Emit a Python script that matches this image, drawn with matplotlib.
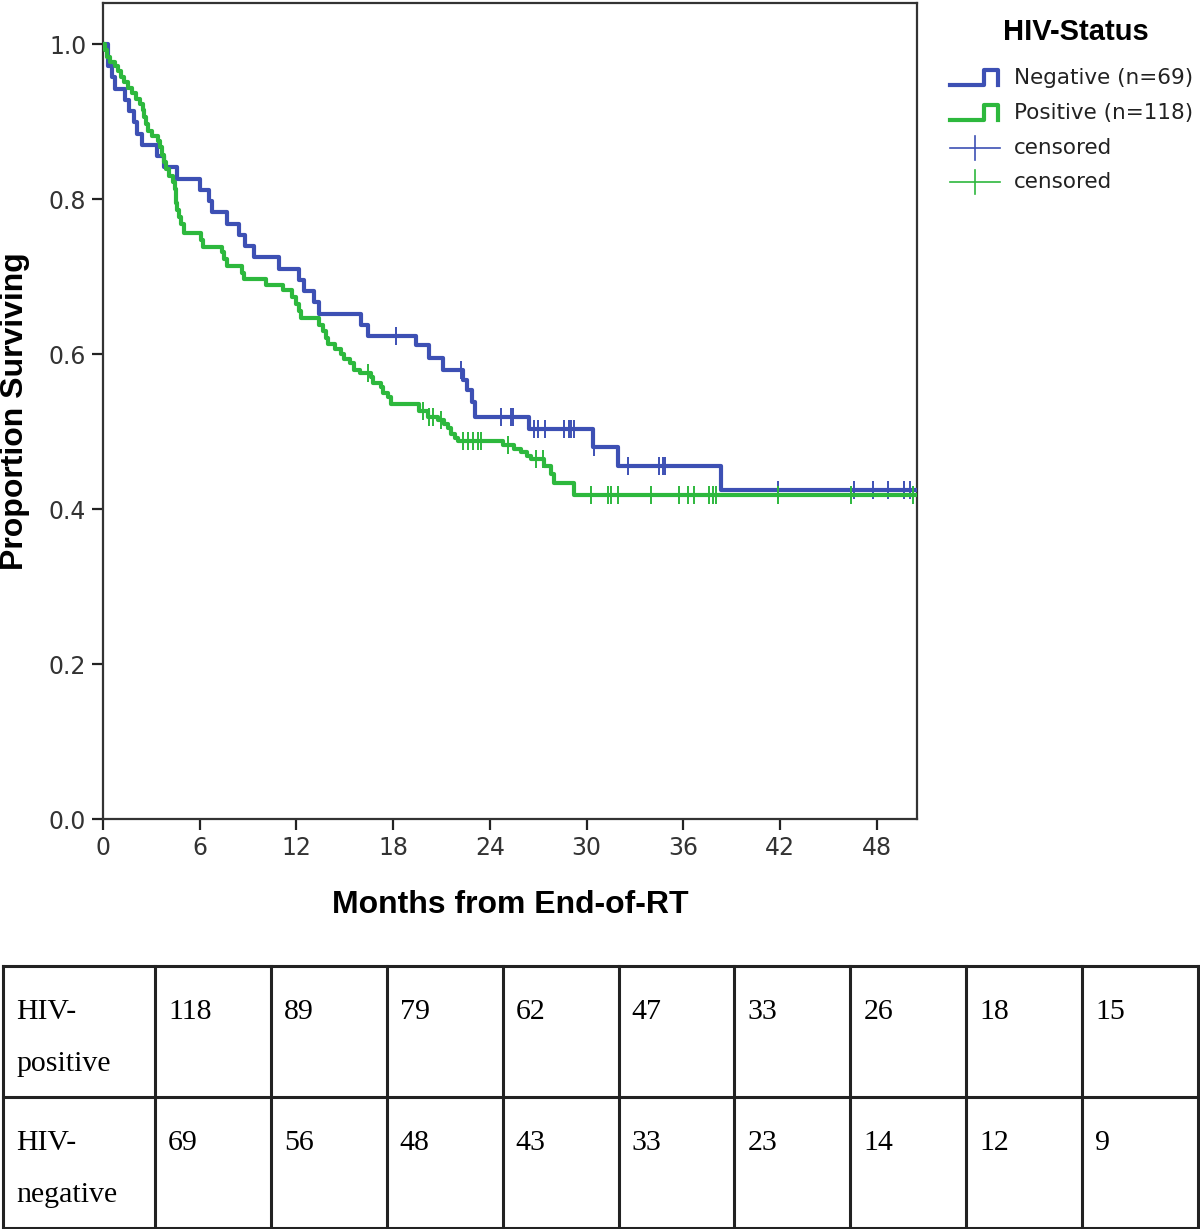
import numpy as np
import matplotlib
matplotlib.use("Agg")
import matplotlib.pyplot as plt
from matplotlib.lines import Line2D

# Kaplan-Meier steps (months, proportion surviving after the drop)
neg_times = [0.31, 0.56, 0.74, 1.36, 1.61, 1.92, 2.11, 2.42, 3.34, 3.78, 4.58, 6.0,
             6.56, 6.75, 7.68, 8.42, 8.8, 9.35, 10.9, 12.14, 12.5, 13.07, 13.38,
             16.04, 16.47, 19.45, 20.2, 21.1, 22.36, 22.6, 22.9, 23.1, 26.45, 30.4,
             31.96, 38.34]
neg_surv = [0.971, 0.957, 0.942, 0.928, 0.913, 0.899, 0.884, 0.870, 0.855, 0.841,
            0.826, 0.812, 0.797, 0.783, 0.768, 0.754, 0.739, 0.725, 0.710, 0.696,
            0.681, 0.667, 0.652, 0.638, 0.623, 0.611, 0.595, 0.580, 0.567, 0.553,
            0.538, 0.519, 0.503, 0.480, 0.455, 0.425]
neg_censor = [18.2, 22.2, 24.7, 25.3, 25.45, 26.75, 27.0, 27.4, 28.6, 28.9, 29.05,
              29.2, 30.47, 32.6, 34.5, 34.75, 34.9, 41.9, 46.6, 47.75, 48.7, 49.7, 50.1]

pos_times = [0.12, 0.25, 0.43, 0.74, 0.93, 1.11, 1.30, 1.55, 1.80, 2.04, 2.29, 2.48,
             2.54, 2.66, 2.79, 3.03, 3.41, 3.53, 3.65, 3.78, 3.90, 4.09, 4.34, 4.46,
             4.52, 4.55, 4.58, 4.71, 4.83, 5.02, 6.07, 6.19, 7.37, 7.49, 7.68, 8.61,
             8.73, 10.10, 11.15, 11.7, 12.0, 12.14, 12.26, 13.38, 13.63, 13.81, 13.94,
             14.37, 14.74, 14.93, 15.30, 15.55, 15.92, 16.66, 16.78, 17.28, 17.40,
             17.71, 17.90, 19.63, 20.19, 20.81, 21.18, 21.43, 21.6, 21.86, 22.05,
             24.84, 25.52, 25.95, 26.32, 26.57, 27.38, 27.81, 28.0, 29.23]
pos_surv = [0.992, 0.983, 0.977, 0.972, 0.965, 0.957, 0.951, 0.943, 0.937, 0.929,
            0.923, 0.915, 0.906, 0.897, 0.888, 0.881, 0.875, 0.867, 0.857, 0.848,
            0.839, 0.830, 0.822, 0.813, 0.804, 0.795, 0.786, 0.777, 0.768, 0.756,
            0.747, 0.738, 0.732, 0.723, 0.714, 0.705, 0.697, 0.689, 0.682, 0.674,
            0.665, 0.656, 0.647, 0.638, 0.630, 0.621, 0.613, 0.606, 0.600, 0.593,
            0.588, 0.580, 0.575, 0.570, 0.562, 0.558, 0.550, 0.545, 0.535, 0.527,
            0.519, 0.515, 0.510, 0.504, 0.497, 0.492, 0.488, 0.482, 0.478, 0.474,
            0.469, 0.464, 0.455, 0.445, 0.434, 0.418]
pos_censor = [16.47, 19.88, 20.25, 20.50, 21.0, 22.36, 22.67, 22.98, 23.29, 23.47,
              25.15, 26.88, 27.31, 30.29, 31.34, 31.53, 31.96, 34.0, 35.74, 36.3,
              36.67, 37.6, 37.84, 38.03, 41.87, 46.39, 50.23]

x_end = 50.5
x_ticks = [0, 6, 12, 18, 24, 30, 36, 42, 48]
y_ticks = [0.0, 0.2, 0.4, 0.6, 0.8, 1.0]

# number at risk table
row_labels = [["HIV-", "positive"], ["HIV-", "negative"]]
at_risk_pos = [118, 89, 79, 62, 47, 33, 26, 18, 15]
at_risk_neg = [69, 56, 48, 43, 33, 23, 14, 12, 9]

blue = "#3d50b4"
green = "#2db83d"

fig = plt.figure(figsize=(12, 12.29), dpi=100)
ax = fig.add_axes([0.0858, 0.3336, 0.6783, 0.664])


def km_plot(times, surv, censor, color, z):
    t = np.r_[0, times, x_end]
    s = np.r_[1.0, surv, surv[-1]]
    ax.step(t, s, where="post", color=color, lw=3.0, zorder=z)
    # censor ticks sit on the curve at their time
    idx = np.searchsorted(t, censor, side="right") - 1
    ax.plot(censor, s[idx], ls="none", marker="|", ms=13, mew=1.4, color=color, zorder=z)


km_plot(neg_times, neg_surv, neg_censor, blue, 3)
km_plot(pos_times, pos_surv, pos_censor, green, 4)

ax.set_xlim(0, x_end)
ax.set_ylim(0, 1.053)
ax.set_xticks(x_ticks)
ax.set_yticks(y_ticks)
ax.set_yticklabels([f"{v:.1f}" for v in y_ticks])
ax.tick_params(direction="out", length=8, width=1.6, labelsize=17, labelcolor="#333333",
               color="#222222", pad=4)
for sp in ax.spines.values():
    sp.set_linewidth(1.6)
    sp.set_color("#333333")

ax.set_xlabel("Months from End-of-RT", family="Liberation Sans", weight="bold", fontsize=23)
ax.xaxis.set_label_coords(0.5, -0.105)
ax.xaxis.label.set_va("center")
ax.set_ylabel("Proportion Surviving", family="Liberation Sans", weight="bold", fontsize=23)
ax.yaxis.set_label_coords(-0.108, 0.5)
ax.yaxis.label.set_va("center")

# legend drawn by hand (step shaped handles as in SPSS)
W, H = 1200.0, 1229.0


def fx(px):
    return px / W


def fy(py):
    return 1 - py / H


fig.text(fx(1076), fy(32), "HIV-Status", family="Liberation Sans", weight="bold",
         fontsize=21, ha="center", va="center")
leg_items = [("Negative (n=69)", blue, "step", 78),
             ("Positive (n=118)", green, "step", 113),
             ("censored", blue, "cens", 148),
             ("censored", green, "cens", 182)]
for label, col, kind, py in leg_items:
    if kind == "step":
        xs = [fx(950), fx(984), fx(984), fx(998), fx(998)]
        ys = [fy(py + 7), fy(py + 7), fy(py - 8), fy(py - 8), fy(py + 7)]
        fig.add_artist(Line2D(xs, ys, color=col, lw=3.0))
    else:
        fig.add_artist(Line2D([fx(950), fx(1000)], [fy(py), fy(py)], color=col, lw=1.2))
        fig.add_artist(Line2D([fx(975), fx(975)], [fy(py - 12), fy(py + 12)], color=col, lw=1.2))
    fig.text(fx(1014), fy(py), label, fontsize=15.5, color="#222222", ha="left", va="center")

# at risk table
tab = fig.add_axes([3 / W, 1 - 1228 / H, 1195 / W, 262 / H])
tab.set_xlim(0, 1)
tab.set_ylim(0, 1)
tab.axis("off")
first_w = 152 / 1195.0
col_w = (1 - first_w) / len(at_risk_pos)
edges = [0] + [first_w + i * col_w for i in range(len(at_risk_pos) + 1)]
for e in edges:
    tab.plot([e, e], [0, 1], color="#222222", lw=2.2, clip_on=False)
for yv in [0, 0.5, 1]:
    tab.plot([0, 1], [yv, yv], color="#222222", lw=2.2, clip_on=False)

serif = "Liberation Serif"
for r, (lab, vals) in enumerate(zip(row_labels, [at_risk_pos, at_risk_neg])):
    top = 1 - 0.5 * r
    tab.text(13 / 1195, top - 46 / 262, lab[0], family=serif, fontsize=21.5, va="center", ha="left")
    tab.text(13 / 1195, top - 98 / 262, lab[1], family=serif, fontsize=21.5, va="center", ha="left")
    for i, v in enumerate(vals):
        tab.text(edges[i + 1] + 13 / 1195, top - 46 / 262, str(v), family=serif,
                 fontsize=21.5, va="center", ha="left")

fig.savefig("out.png", dpi=100)
